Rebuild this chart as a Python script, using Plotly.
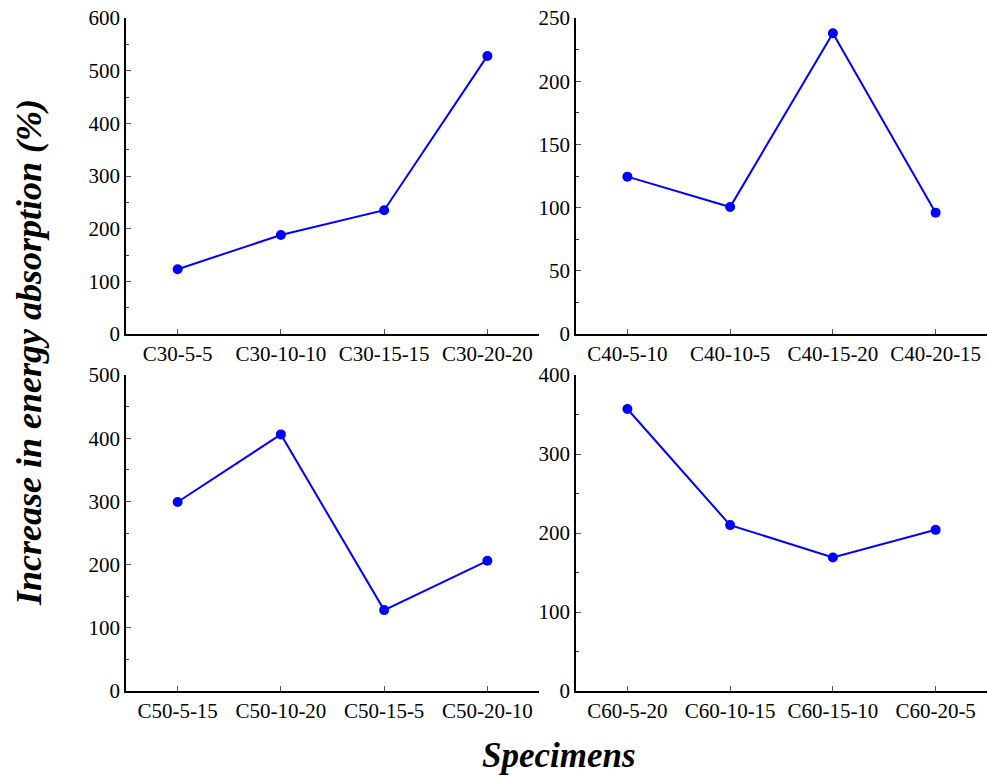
import plotly.graph_objects as go

cats_c30 = ["C30-5-5", "C30-10-10", "C30-15-15", "C30-20-20"]
vals_c30 = [123, 188, 235, 528]
cats_c40 = ["C40-5-10", "C40-10-5", "C40-15-20", "C40-20-15"]
vals_c40 = [124.5, 100.5, 238, 96]
cats_c50 = ["C50-5-15", "C50-10-20", "C50-15-5", "C50-20-10"]
vals_c50 = [299, 406, 128, 206]
cats_c60 = ["C60-5-20", "C60-10-15", "C60-15-10", "C60-20-5"]
vals_c60 = [357, 210, 169, 204]

y_ranges = [[0, 600], [0, 250], [0, 500], [0, 400]]
y_dticks = [100, 50, 100, 100]

W, H = 987, 776
xdoms = [[126 / W, 539 / W], [576 / W, 1.0]]
ydoms = [[1 - 334 / H, 1 - 18 / H], [1 - 691 / H, 1 - 375 / H]]

panels = [(cats_c30, vals_c30), (cats_c40, vals_c40), (cats_c50, vals_c50), (cats_c60, vals_c60)]

FONT = "Liberation Serif, Times New Roman, serif"
fig = go.Figure()
layout = {}
for i, (cats, vals) in enumerate(panels):
    n = i + 1
    xa = "x" if n == 1 else f"x{n}"
    ya = "y" if n == 1 else f"y{n}"
    fig.add_trace(go.Scatter(
        x=list(range(len(cats))), y=vals, xaxis=xa, yaxis=ya,
        mode="lines+markers",
        line=dict(color="#0000FF", width=2),
        marker=dict(color="#0000FF", size=10),
        showlegend=False, cliponaxis=False,
    ))
    row, col = divmod(i, 2)
    xkey = "xaxis" if n == 1 else f"xaxis{n}"
    ykey = "yaxis" if n == 1 else f"yaxis{n}"
    layout[xkey] = dict(
        domain=xdoms[col], anchor=ya, range=[-0.5, 3.5], automargin=False,
        tickmode="array", tickvals=list(range(len(cats))), ticktext=cats,
        showline=True, linecolor="black", linewidth=1.5, mirror=False,
        ticks="inside", ticklen=5, tickcolor="#555", tickwidth=1,
        showgrid=False, zeroline=False,
        tickfont=dict(family=FONT, size=21, color="black"),
    )
    layout[ykey] = dict(
        domain=ydoms[row], anchor=xa, range=y_ranges[i], automargin=False,
        dtick=y_dticks[i], tick0=0,
        showline=True, linecolor="black", linewidth=1.5,
        ticks="inside", ticklen=5, tickcolor="#555", tickwidth=1,
        minor=dict(ticks="inside", ticklen=3, dtick=y_dticks[i] / 2, tickcolor="#333", tickwidth=1, showgrid=False),
        showgrid=False, zeroline=False,
        tickfont=dict(family=FONT, size=21, color="black"),
    )

fig.update_layout(
    width=W, height=H,
    margin=dict(l=0, r=0, t=0, b=0),
    paper_bgcolor="white", plot_bgcolor="white",
    annotations=[
        dict(text="<b><i>Increase in energy absorption (%)</i></b>", xref="paper", yref="paper",
             x=29 / W, y=1 - 353 / H, textangle=-90, showarrow=False,
             font=dict(family=FONT, size=36, color="black"), xanchor="center", yanchor="middle"),
        dict(text="<b><i>Specimens</i></b>", xref="paper", yref="paper",
             x=559 / W, y=1 - 755 / H, showarrow=False,
             font=dict(family=FONT, size=35, color="black"), xanchor="center", yanchor="middle"),
    ],
    **layout,
)

fig.write_html("out.html")
